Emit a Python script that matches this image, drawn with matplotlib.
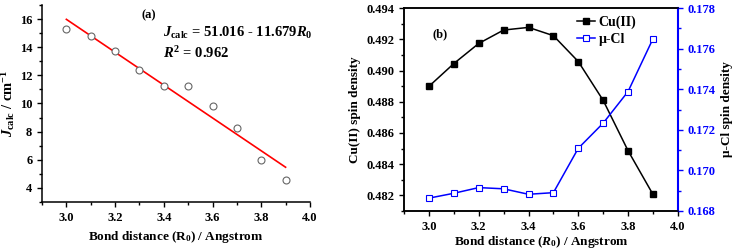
import numpy as np
import matplotlib
matplotlib.use("Agg")
import matplotlib.pyplot as plt
from matplotlib.ticker import MultipleLocator, FormatStrFormatter

plt.rcParams['font.family'] = ['Liberation Serif', 'DejaVu Serif']
plt.rcParams['font.weight'] = 'bold'
plt.rcParams['mathtext.fontset'] = 'custom'
plt.rcParams['mathtext.rm'] = 'Liberation Serif:bold'
plt.rcParams['mathtext.it'] = 'Liberation Serif:bold:italic'
plt.rcParams['mathtext.bf'] = 'Liberation Serif:bold'

# dados
r0 = [3.0, 3.1, 3.2, 3.3, 3.4, 3.5, 3.6, 3.7, 3.8, 3.9]
j_calc = [15.28, 14.80, 13.73, 12.37, 11.25, 11.23, 9.84, 8.25, 5.98, 4.55]
fit_a = 51.016
fit_b = -11.679
cu_spin = [0.48899, 0.49045, 0.49174, 0.49260, 0.49277, 0.49224, 0.49058, 0.48809, 0.48486, 0.48206]
cl_spin = [0.16863, 0.16887, 0.16915, 0.16909, 0.16882, 0.16890, 0.17109, 0.17233, 0.17389, 0.17649]

fig = plt.figure(figsize=(7.32, 2.49), dpi=100)
fs = 9

# ---- painel (a)
ax1 = fig.add_axes([0.0574, 0.189, 0.366, 0.791])
r = np.array(r0)
ax1.plot(r, fit_a + fit_b * r, color='red', lw=1.2)
ax1.plot(r0, j_calc, 'o', mfc='white', mec='#666666', ms=5, mew=0.8)
ax1.set_xlim(2.9, 4.0)
ax1.set_ylim(3, 17)
ax1.spines['top'].set_visible(False)
ax1.spines['right'].set_visible(False)
ax1.xaxis.set_major_locator(MultipleLocator(0.2))
ax1.xaxis.set_minor_locator(MultipleLocator(0.1))
ax1.xaxis.set_major_formatter(FormatStrFormatter('%.1f'))
ax1.yaxis.set_major_locator(MultipleLocator(2))
ax1.yaxis.set_minor_locator(MultipleLocator(1))
ax1.tick_params(which='both', direction='out', labelsize=fs, width=1)
ax1.tick_params(which='major', length=3.5)
ax1.tick_params(which='minor', length=2)
ax1.set_xlabel(r'Bond distance (R$_0$) / Angstrom', fontsize=fs + 0.5, fontweight='bold')
ax1.set_ylabel(r'$J_{\rm calc}$ / cm$^{-1}$', fontsize=fs + 1.5, fontweight='bold', labelpad=2)
ax1.text(3.31, 16.3, '(a)', fontsize=fs, fontweight='bold', va='center')
ax1.text(3.395, 15.0, r'$J_{\rm calc}$ = 51.016 - 11.679$R_0$', fontsize=fs + 1.5, va='center')
ax1.text(3.395, 13.6, r'$R^2$ = 0.962', fontsize=fs + 1.5, va='center')
for s in ax1.spines.values():
    s.set_linewidth(1.1)

# ---- painel (b)
ax2 = fig.add_axes([0.552, 0.153, 0.374, 0.814])
ax3 = ax2.twinx()
l1, = ax2.plot(r0, cu_spin, '-s', color='black', mfc='black', ms=4.2, lw=1.1, label='Cu(II)')
l2, = ax3.plot(r0, cl_spin, '-s', color='blue', mfc='white', mec='blue', ms=4.2, mew=0.8, lw=1.1, label='\u03bc-Cl')
ax2.set_xlim(2.9, 4.0)
ax2.set_ylim(0.481, 0.494)
ax3.set_ylim(0.168, 0.178)
ax2.xaxis.set_major_locator(MultipleLocator(0.2))
ax2.xaxis.set_minor_locator(MultipleLocator(0.1))
ax2.xaxis.set_major_formatter(FormatStrFormatter('%.1f'))
ax2.yaxis.set_major_locator(MultipleLocator(0.002))
ax2.yaxis.set_minor_locator(MultipleLocator(0.001))
ax2.yaxis.set_major_formatter(FormatStrFormatter('%.3f'))
ax3.yaxis.set_major_locator(MultipleLocator(0.002))
ax3.yaxis.set_minor_locator(MultipleLocator(0.001))
ax3.yaxis.set_major_formatter(FormatStrFormatter('%.3f'))
for ax in (ax2, ax3):
    ax.tick_params(which='both', direction='out', labelsize=fs, width=1)
    ax.tick_params(which='major', length=3.5)
    ax.tick_params(which='minor', length=2)
ax3.tick_params(axis='y', which='both', colors='blue')
ax3.spines['right'].set_color('blue')
for s in list(ax2.spines.values()) + list(ax3.spines.values()):
    s.set_linewidth(1.1)
ax3.spines['right'].set_linewidth(1.5)
ax2.set_xlabel(r'Bond distance ($R_0$) / Angstrom', fontsize=fs + 0.5, fontweight='bold', labelpad=1)
ax2.set_ylabel('Cu(II) spin density', fontsize=fs + 0.5, fontweight='bold')
ax3.set_ylabel('\u03bc-Cl spin density', fontsize=fs + 0.5, fontweight='bold')
ax2.text(3.015, 0.4923, '(b)', fontsize=fs, fontweight='bold', va='center')
ax2.legend(handles=[l1, l2], loc='upper left', bbox_to_anchor=(0.63, 0.965), frameon=False,
           fontsize=fs + 1, handlelength=1.3, handletextpad=0.3, borderaxespad=0, borderpad=0,
           labelspacing=0.3)

fig.savefig('out.png', dpi=100)
